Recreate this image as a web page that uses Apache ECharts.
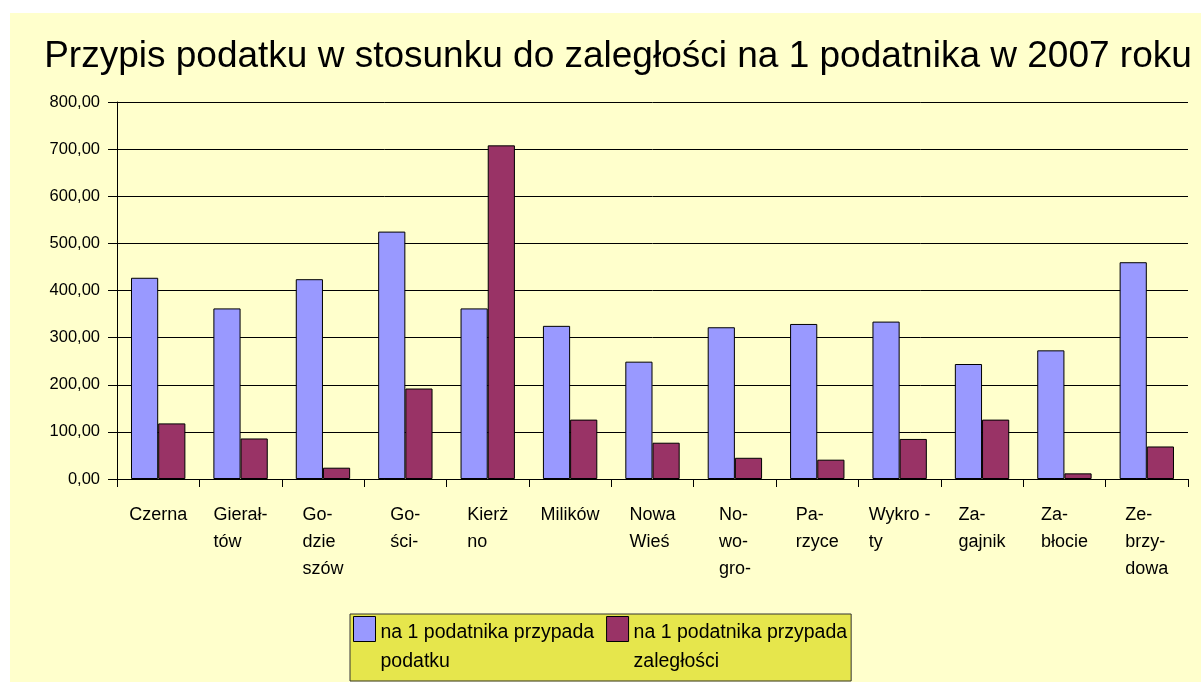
<!DOCTYPE html>
<html>
<head>
<meta charset="utf-8">
<script src="https://cdn.jsdelivr.net/npm/echarts@6/dist/echarts.min.js"></script>
<style>
html, body { margin: 0; padding: 0; background: #fff; }
#chart { position: absolute; left: 10px; top: 13px; width: 1191px; height: 669px; }
</style>
</head>
<body>
<div id="chart"></div>
<script>
// gminy (podpisy osi X, tak jak w oryginale)
var gminy = ['Czerna', 'Gierał-\ntów', 'Go-\ndzie\nszów', 'Go-\nści-', 'Kierż\nno', 'Milików',
    'Nowa\nWieś', 'No-\nwo-\ngro-', 'Pa-\nrzyce', 'Wykro -\nty', 'Za-\ngajnik', 'Za-\nbłocie', 'Ze-\nbrzy-\ndowa'];
var podatek = [427, 362, 424, 525, 362, 325, 249, 322, 329, 334, 244, 273, 460];
var zaleglosci = [118, 86, 24, 192, 708, 126, 77, 45, 41, 85, 126, 12, 69];
var seriesNames = ['na 1 podatnika przypada\npodatku', 'na 1 podatnika przypada\nzaległości'];
var yTicks = [0, 100, 200, 300, 400, 500, 600, 700, 800];

var font = '"Liberation Sans", Arial, sans-serif';
// kwadrat legendy u gory, reszta wysokosci pusta (zeby tekst byl obok pierwszej linii)
var legendIcon = 'path://M0,0h22v25h-22zM0,61';

var myChart = echarts.init(document.getElementById('chart'));

var option = {
    backgroundColor: '#FFFFCC',
    animation: false,
    title: {
        text: 'Przypis podatku w stosunku do zaległości na 1 podatnika w 2007 roku',
        left: 603,
        textAlign: 'center',
        top: 20,
        textStyle: { fontFamily: font, fontSize: 37, fontWeight: 'normal', color: '#000' }
    },
    legend: {
        left: 340,
        bottom: 1,
        orient: 'horizontal',
        itemWidth: 22,
        itemHeight: 61,
        itemGap: 12,
        icon: legendIcon,
        backgroundColor: '#E6E64C',
        borderColor: '#333',
        borderWidth: 1,
        padding: [2, 4, 3, 3],
        itemStyle: { borderColor: '#000', borderWidth: 1 },
        textStyle: { fontFamily: font, fontSize: 19.5, lineHeight: 29, color: '#000' },
        data: seriesNames
    },
    grid: { left: 107, right: 13, top: 89, bottom: 203, containLabel: false },
    xAxis: {
        type: 'category',
        data: gminy,
        axisLine: { lineStyle: { color: '#000', width: 1 } },
        axisTick: { show: true, length: 8, lineStyle: { color: '#000' } },
        axisLabel: {
            interval: 0,
            margin: 23,
            formatter: function (v) {
                return v.split('\n').map(function (s) { return '{l|' + s + '}'; }).join('\n');
            },
            rich: {
                l: { align: 'left', fontFamily: font, fontSize: 18, lineHeight: 27, color: '#000' }
            }
        }
    },
    yAxis: {
        type: 'value',
        min: yTicks[0],
        max: yTicks[yTicks.length - 1],
        interval: 100,
        axisLine: { show: true, lineStyle: { color: '#000', width: 1 } },
        axisTick: { show: true, length: 9, lineStyle: { color: '#000' } },
        splitLine: { lineStyle: { color: '#000', width: 1 } },
        axisLabel: {
            margin: 17,
            fontFamily: font,
            fontSize: 16.5,
            color: '#000',
            formatter: function (v) { return v.toFixed(2).replace('.', ','); }
        }
    },
    series: [{
        name: seriesNames[0],
        type: 'bar',
        data: podatek,
        barGap: '0%',
        barCategoryGap: '34%',
        itemStyle: { color: '#9999FF', borderColor: '#000', borderWidth: 1 }
    }, {
        name: seriesNames[1],
        type: 'bar',
        data: zaleglosci,
        itemStyle: { color: '#993366', borderColor: '#000', borderWidth: 1 }
    }]
};
myChart.setOption(option);
</script>
</body>
</html>
